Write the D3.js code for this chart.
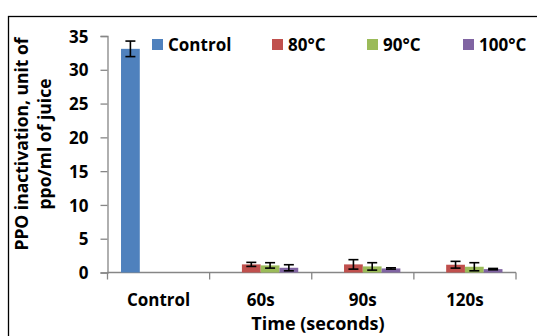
<!DOCTYPE html>
<html>
<head>
<meta charset="utf-8">
<script src="https://cdn.jsdelivr.net/npm/d3@7"></script>
<style>
  body { margin: 0; background: #fff; }
  svg text { font-family: "Open Sans", sans-serif; font-weight: bold; fill: #000; }
</style>
</head>
<body>
<div id="chart"></div>
<script>
const categories = ['Control', '60s', '90s', '120s'];
const seriesNames = ['Control', '80°C', '90°C', '100°C'];
const seriesColors = ['#4F81BD', '#C0504D', '#9BBB59', '#8064A2'];
// values per series, one per category (null = no bar)
const controlVals = [33.1, null, null, null];
const c80Vals = [null, 1.2, 1.2, 1.15];
const c90Vals = [null, 1.05, 0.9, 0.85];
const c100Vals = [null, 0.7, 0.6, 0.5];
const controlErr = [1.15, null, null, null];
const c80Err = [null, 0.3, 0.7, 0.5];
const c90Err = [null, 0.4, 0.55, 0.6];
const c100Err = [null, 0.45, 0.1, 0.1];
const yTicks = [0, 5, 10, 15, 20, 25, 30, 35];

const values = [controlVals, c80Vals, c90Vals, c100Vals];
const errors = [controlErr, c80Err, c90Err, c100Err];

const width = 537, height = 336;
const svg = d3.select('#chart').append('svg')
  .attr('width', width).attr('height', height);

// outer frame
svg.append('rect')
  .attr('x', 8.5).attr('y', 16.5)
  .attr('width', 560).attr('height', 400)
  .attr('fill', 'none').attr('stroke', '#000').attr('stroke-width', 1.3);

const plot = { left: 107.5, right: 516, top: 36, bottom: 272.5 };

const y = d3.scaleLinear().domain([0, 35]).range([plot.bottom, plot.top]);
const x0 = d3.scaleBand().domain(categories).range([plot.left, plot.right]).padding(0);
const x1 = d3.scaleBand().domain(seriesNames).range([0, x0.bandwidth()])
  .paddingInner(0).paddingOuter(0.72);

// y axis
const yAxis = svg.append('g')
  .attr('transform', `translate(${plot.left},0)`)
  .call(d3.axisLeft(y).tickValues(yTicks).tickSize(7).tickPadding(12));
yAxis.select('.domain').attr('stroke', '#868686').attr('stroke-width', 1.3);
yAxis.selectAll('.tick line').attr('stroke', '#868686').attr('stroke-width', 1.3);
yAxis.selectAll('.tick text').attr('font-size', 17).attr('dy', '0.36em');

// x axis
const xAxis = svg.append('g')
  .attr('transform', `translate(0,${plot.bottom})`);
xAxis.append('line')
  .attr('x1', plot.left).attr('x2', plot.right)
  .attr('stroke', '#868686').attr('stroke-width', 1.3);
const xEdges = categories.map(c => x0(c)).concat([x0(categories[categories.length - 1]) + x0.bandwidth()]);
xAxis.selectAll('line.tk').data(xEdges).join('line')
  .attr('class', 'tk')
  .attr('x1', d => d).attr('x2', d => d)
  .attr('y1', 0).attr('y2', 7)
  .attr('stroke', '#868686').attr('stroke-width', 1.3);
xAxis.selectAll('text').data(categories).join('text')
  .attr('x', d => x0(d) + x0.bandwidth() / 2)
  .attr('y', 33)
  .attr('text-anchor', 'middle')
  .attr('font-size', 17)
  .text(d => d);

// bars
const flat = [];
seriesNames.forEach((s, si) => {
  categories.forEach((c, ci) => {
    const v = values[si][ci];
    if (v != null) flat.push({ s, si, c, v, e: errors[si][ci] });
  });
});

svg.append('g').selectAll('rect').data(flat).join('rect')
  .attr('x', d => x0(d.c) + x1(d.s))
  .attr('y', d => y(d.v))
  .attr('width', x1.bandwidth())
  .attr('height', d => y(0) - y(d.v))
  .attr('fill', d => seriesColors[d.si]);

// error bars
const eb = svg.append('g').selectAll('g').data(flat.filter(d => d.e != null)).join('g')
  .attr('stroke', '#000').attr('stroke-width', 1.6);
const cx = d => x0(d.c) + x1(d.s) + x1.bandwidth() / 2;
eb.append('line')
  .attr('x1', cx).attr('x2', cx)
  .attr('y1', d => y(d.v + d.e)).attr('y2', d => y(d.v - d.e));
eb.append('line')
  .attr('x1', d => cx(d) - 5).attr('x2', d => cx(d) + 5)
  .attr('y1', d => y(d.v + d.e)).attr('y2', d => y(d.v + d.e));
eb.append('line')
  .attr('x1', d => cx(d) - 5).attr('x2', d => cx(d) + 5)
  .attr('y1', d => y(d.v - d.e)).attr('y2', d => y(d.v - d.e));

// legend
const legendX = [152, 272, 367, 463];
const lg = svg.append('g').selectAll('g').data(seriesNames).join('g')
  .attr('transform', (d, i) => `translate(${legendX[i]},39)`);
lg.append('rect').attr('width', 11).attr('height', 11)
  .attr('fill', (d, i) => seriesColors[i]);
lg.append('text').attr('x', 16).attr('y', 11.5)
  .attr('font-size', 17).text(d => d);

// axis titles
svg.append('text')
  .attr('x', 318).attr('y', 330)
  .attr('text-anchor', 'middle').attr('font-size', 18)
  .text('Time (seconds)');

const yt = svg.append('text')
  .attr('transform', 'translate(28,144) rotate(-90)')
  .attr('text-anchor', 'middle').attr('font-size', 17.5);
yt.append('tspan').attr('x', 0).attr('dy', 0).text('PPO inactivation, unit of');
yt.append('tspan').attr('x', 0).attr('dy', 23).text('ppo/ml of juice');
</script>
</body>
</html>
